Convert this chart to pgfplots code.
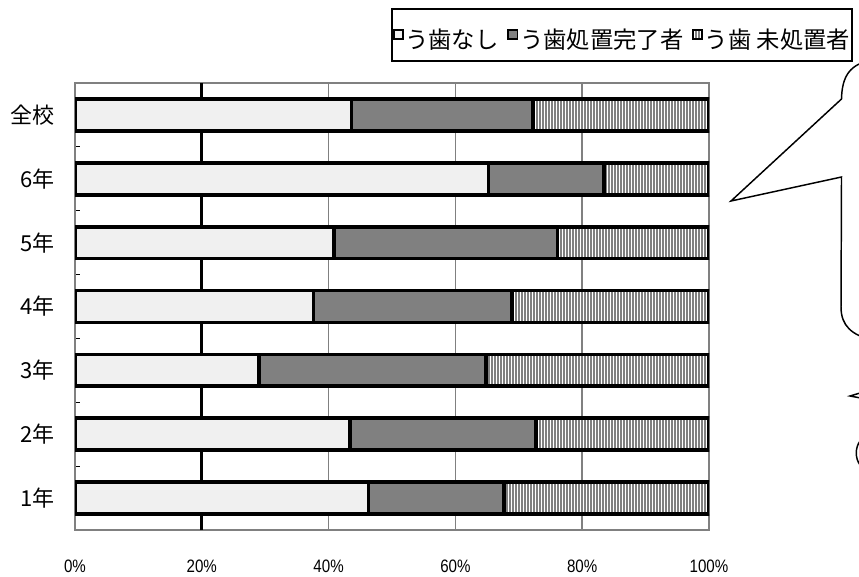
\documentclass[border=0pt]{standalone}
\usepackage{fontspec}
\setmainfont{Liberation Sans}
\newfontfamily\cjk{Noto Sans CJK JP}
\usepackage{graphicx}
\usepackage{pgfplots}
\pgfplotsset{compat=1.18}
\usetikzlibrary{patterns.meta}

\begin{document}
\begin{tikzpicture}
\useasboundingbox (0,0) rectangle (644.25pt,432pt);
\clip (0,0) rectangle (644.25pt,432pt);
\begin{axis}[
  scale only axis,
  width=475.5pt, height=335.25pt,
  at={(56.25pt,34.5pt)}, anchor=south west,
  xbar stacked,
  bar width=0.5,
  xmin=0, xmax=100,
  ymin=-0.5, ymax=6.5,
  xtick={0,20,...,100},
  xticklabel={\scalebox{0.84}[1]{\pgfmathprintnumber{\tick}\%}},
  /pgf/number format/assume math mode=true,
  xticklabel style={font=\fontsize{13.5pt}{14pt}\selectfont, yshift=-19pt},
  major x tick style={draw=none},
  extra x ticks={20},
  extra x tick labels={},
  extra x tick style={grid style={black, line width=2.2pt}, major tick length=0pt},
  xmajorgrids,
  grid style={black!50, line width=1.1pt},
  ytick={0,...,6},
  yticklabels={1年,2年,3年,4年,5年,6年,全校},
  yticklabel style={font=\cjk\fontsize{16.5pt}{18pt}\selectfont, xshift=-12pt},
  major y tick style={draw=none},
  minor ytick={0.5,1.5,...,5.5},
  minor tick length=4pt,
  minor y tick style={black, line width=0.8pt},
  ytick pos=left,
  axis line style={draw=black!50, line width=1.6pt},
  every axis plot/.append style={
    legend image code/.code={
      \draw[#1, line width=1.4pt] (0pt,6.6pt) rectangle (6.8pt,13.4pt);
    }},
  legend columns=3,
  legend style={
    at={(0.5,1.1655)}, anchor=north west,
    draw=black, line width=1.4pt,
    inner xsep=0.5pt, inner ysep=0pt, outer sep=0pt,
    font=\cjk\fontsize{17.5pt}{19pt}\selectfont,
    cells={anchor=base west},
    nodes={inner xsep=1.2pt, inner ysep=0pt, text height=29.3pt, text depth=10pt},
    /tikz/every even column/.append style={column sep=5.5pt},
  },
]
% う歯なし
\addplot[draw=black, line width=2.8pt, fill=black!6] coordinates {
  (46.3,0) (43.4,1) (29.0,2) (37.6,3) (40.9,4) (65.2,5) (43.6,6)
};
\addlegendentry{う歯なし}
% う歯処置完了者
\addplot[draw=black, line width=2.8pt, fill=black!50] coordinates {
  (21.4,0) (29.3,1) (35.8,2) (31.3,3) (35.2,4) (18.2,5) (28.6,6)
};
\addlegendentry{う歯処置完了者\hspace{11.5pt}}
% う歯未処置者
\addplot[draw=black, line width=2.8pt, fill=white,
  postaction={pattern={Lines[angle=90, distance=2.25pt, line width=1.1pt]},
              pattern color=black!50}] coordinates {
  (32.3,0) (27.3,1) (35.2,2) (31.1,3) (23.9,4) (16.6,5) (27.8,6)
};
\addlegendentry{う歯 未処置者}
\end{axis}

% callout shapes at the right edge (cut off in the original)
\begin{scope}[x=0.75pt, y=0.75pt, line width=1.1pt]
  \draw (872,516) .. controls (850,512) and (842,500) .. (841.5,477)
        -- (731,375) -- (841.5,399) -- (841,269)
        .. controls (841,250) and (852,241) .. (872,236);
  \draw (859,182.7) -- (850,180) -- (859,178.3);
  \draw (860,135) .. controls (855,128) and (855,118) .. (860,111);
\end{scope}
\end{tikzpicture}
\end{document}
